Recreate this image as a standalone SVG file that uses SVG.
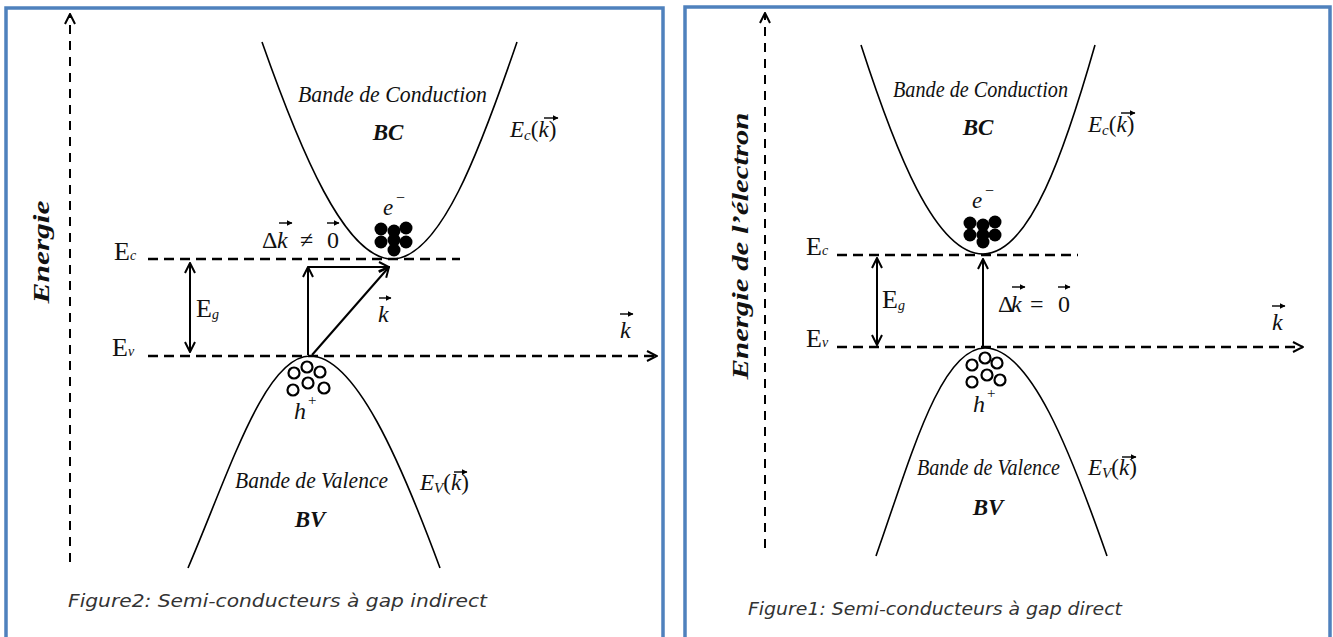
<svg xmlns="http://www.w3.org/2000/svg" width="1333" height="637" viewBox="0 0 1333 637">
<style>
.frame{fill:none;stroke:#4F81BD;stroke-width:3.5}
.axis{fill:none;stroke:#000;stroke-width:2;stroke-dasharray:9 7}
.lvl{fill:none;stroke:#000;stroke-width:2.5;stroke-dasharray:10 6}
.band{fill:none;stroke:#000;stroke-width:1.6}
.arr{fill:none;stroke:#000;stroke-width:2}
.vec{fill:none;stroke:#000;stroke-width:1.4}
.el{fill:#000}
.hole{fill:#fff;stroke:#000;stroke-width:2.2}
.t{font-family:"Liberation Serif","Times New Roman",serif;fill:#111}
.it{font-style:italic}
.bi{font-style:italic;font-weight:bold}
.cap{font-family:"DejaVu Sans",Verdana,sans-serif;font-style:italic;fill:#333;font-size:17px}
</style>
<defs>
<marker id="ah" viewBox="0 0 12 12" refX="11" refY="6" markerWidth="12" markerHeight="12" markerUnits="userSpaceOnUse" orient="auto-start-reverse"><path d="M1,1 L11,6 L1,11" fill="none" stroke="#000" stroke-width="2" stroke-dasharray="none"/></marker>
<marker id="vh" viewBox="0 0 6 6" refX="5.5" refY="3" markerWidth="6" markerHeight="6" markerUnits="userSpaceOnUse" orient="auto"><path d="M0,0 L6,3 L0,6 z" fill="#000"/></marker>
</defs>

<g id="frames">
<rect class="frame" x="6" y="8" width="657" height="640"/>
<rect class="frame" x="685" y="7" width="645" height="640"/>
</g>

<!-- LEFT PANEL: indirect gap -->
<g id="left-axes">
<line class="axis" x1="70" y1="562" x2="70" y2="14" marker-end="url(#ah)"/>
<line class="lvl" x1="148" y1="259" x2="460" y2="259"/>
<line class="lvl" x1="148" y1="356" x2="657" y2="356" marker-end="url(#ah)"/>
<text class="t bi" font-size="24" transform="translate(49,252) rotate(-90)" text-anchor="middle" textLength="103" lengthAdjust="spacingAndGlyphs">Energie</text>
<text class="t" x="620" y="338" font-size="24" font-style="italic">k</text>
<line class="vec" x1="620" y1="314" x2="633" y2="314" marker-end="url(#vh)"/>
</g>

<g id="left-conduction-band">
<path class="band" d="M262,42 C300,150 345,259 392,259 C440,259 480,150 517,42"/>
<text class="t it" x="298" y="102" font-size="23" textLength="189" lengthAdjust="spacingAndGlyphs">Bande de Conduction</text>
<text class="t bi" x="388" y="140" font-size="23" text-anchor="middle">BC</text>
<text class="t" x="510" y="137" font-size="23"><tspan font-style="italic">E</tspan><tspan font-size="15" font-style="italic" dy="3">c</tspan><tspan dy="-3">(</tspan><tspan font-style="italic">k</tspan>)</text>
<line class="vec" x1="544" y1="118" x2="558" y2="118" marker-end="url(#vh)"/>
</g>

<g id="left-electrons">
<circle class="el" cx="381" cy="229" r="6.5"/>
<circle class="el" cx="394" cy="231" r="6.5"/>
<circle class="el" cx="406" cy="228" r="6.5"/>
<circle class="el" cx="381" cy="242" r="6.5"/>
<circle class="el" cx="394" cy="240" r="6.5"/>
<circle class="el" cx="406" cy="242" r="6.5"/>
<circle class="el" cx="394" cy="250" r="6.5"/>
<text class="t it" x="383" y="215" font-size="23">e</text>
<text class="t" x="396" y="203" font-size="16">−</text>
</g>

<g id="left-levels-labels">
<text class="t" x="114" y="260" font-size="26">E<tspan font-size="14" font-style="italic">c</tspan></text>
<text class="t" x="112" y="356" font-size="26">E<tspan font-size="14" font-style="italic">v</tspan></text>
<text class="t" x="196" y="317" font-size="26">E<tspan font-size="14" font-style="italic" dy="2">g</tspan></text>
</g>

<g id="left-valence-band">
<path class="band" d="M188,568 C230,470 265,356 310,356 C355,356 400,460 440,568"/>
<circle class="hole" cx="294" cy="373" r="5.5"/>
<circle class="hole" cx="307" cy="367" r="5.5"/>
<circle class="hole" cx="320" cy="372" r="5.5"/>
<circle class="hole" cx="293" cy="390" r="5.5"/>
<circle class="hole" cx="308" cy="383" r="5.5"/>
<circle class="hole" cx="324" cy="388" r="5.5"/>
<text class="t it" x="294" y="419" font-size="24">h</text>
<text class="t" x="308" y="405" font-size="15">+</text>
<text class="t it" x="235" y="488" font-size="23" textLength="153" lengthAdjust="spacingAndGlyphs">Bande de Valence</text>
<text class="t bi" x="310" y="527" font-size="23" text-anchor="middle">BV</text>
<text class="t" x="420" y="490" font-size="23"><tspan font-style="italic">E</tspan><tspan font-size="15" font-style="italic" dy="3">V</tspan><tspan dy="-3">(</tspan><tspan font-style="italic">k</tspan>)</text>
<line class="vec" x1="454" y1="472" x2="467" y2="472" marker-end="url(#vh)"/>
</g>

<g id="left-connectors">
<line class="arr" x1="190" y1="263" x2="190" y2="352" marker-start="url(#ah)" marker-end="url(#ah)"/>
<line class="arr" x1="308" y1="355" x2="308" y2="267" marker-end="url(#ah)"/>
<line class="arr" x1="308" y1="267" x2="389" y2="267" marker-end="url(#ah)"/>
<line class="arr" x1="312" y1="355" x2="389" y2="267" marker-end="url(#ah)"/>
</g>

<g id="left-transition-labels">
<text class="t" x="262" y="248" font-size="24">Δ</text>
<text class="t it" x="277" y="248" font-size="24">k</text>
<line class="vec" x1="279" y1="223" x2="292" y2="223" marker-end="url(#vh)"/>
<text class="t" x="300" y="248" font-size="24">≠</text>
<text class="t" x="327" y="248" font-size="24">0</text>
<line class="vec" x1="327" y1="223" x2="339" y2="223" marker-end="url(#vh)"/>
<text class="t it" x="378" y="322" font-size="24">k</text>
<line class="vec" x1="379" y1="298" x2="391" y2="298" marker-end="url(#vh)"/>
</g>

<text id="caption-left" class="cap" x="68" y="607" textLength="419" lengthAdjust="spacingAndGlyphs">Figure2: Semi-conducteurs à gap indirect</text>

<!-- RIGHT PANEL: direct gap -->
<g id="right-axes">
<line class="axis" x1="765" y1="548" x2="765" y2="13" marker-end="url(#ah)"/>
<line class="lvl" x1="837" y1="255" x2="1078" y2="255"/>
<line class="lvl" x1="837" y1="347" x2="1303" y2="347" marker-end="url(#ah)"/>
<text class="t bi" font-size="24" transform="translate(748,246) rotate(-90)" text-anchor="middle" textLength="267" lengthAdjust="spacingAndGlyphs">Energie de l’électron</text>
<text class="t" x="1272" y="330" font-size="24" font-style="italic">k</text>
<line class="vec" x1="1272" y1="306" x2="1285" y2="306" marker-end="url(#vh)"/>
</g>

<g id="right-conduction-band">
<path class="band" d="M861,45 C895,150 935,254 983,254 C1030,254 1065,150 1095,45"/>
<text class="t it" x="893" y="97" font-size="23" textLength="175" lengthAdjust="spacingAndGlyphs">Bande de Conduction</text>
<text class="t bi" x="978" y="135" font-size="23" text-anchor="middle">BC</text>
<text class="t" x="1088" y="132" font-size="23"><tspan font-style="italic">E</tspan><tspan font-size="15" font-style="italic" dy="3">c</tspan><tspan dy="-3">(</tspan><tspan font-style="italic">k</tspan>)</text>
<line class="vec" x1="1121" y1="113" x2="1135" y2="113" marker-end="url(#vh)"/>
</g>

<g id="right-electrons">
<circle class="el" cx="970" cy="223" r="6.5"/>
<circle class="el" cx="983" cy="225" r="6.5"/>
<circle class="el" cx="995" cy="222" r="6.5"/>
<circle class="el" cx="970" cy="235" r="6.5"/>
<circle class="el" cx="983" cy="235" r="6.5"/>
<circle class="el" cx="995" cy="235" r="6.5"/>
<circle class="el" cx="983" cy="242" r="6.5"/>
<text class="t it" x="972" y="208" font-size="23">e</text>
<text class="t" x="985" y="196" font-size="16">−</text>
</g>

<g id="right-levels-labels">
<text class="t" x="806" y="255" font-size="26">E<tspan font-size="14" font-style="italic">c</tspan></text>
<text class="t" x="806" y="347" font-size="26">E<tspan font-size="14" font-style="italic">v</tspan></text>
<text class="t" x="882" y="308" font-size="26">E<tspan font-size="14" font-style="italic" dy="2">g</tspan></text>
</g>

<g id="right-valence-band">
<path class="band" d="M876,556 C910,460 940,348 985,348 C1030,348 1070,450 1107,556"/>
<circle class="hole" cx="972" cy="365" r="5.5"/>
<circle class="hole" cx="985" cy="358" r="5.5"/>
<circle class="hole" cx="997" cy="363" r="5.5"/>
<circle class="hole" cx="972" cy="382" r="5.5"/>
<circle class="hole" cx="987" cy="375" r="5.5"/>
<circle class="hole" cx="1000" cy="380" r="5.5"/>
<text class="t it" x="973" y="412" font-size="24">h</text>
<text class="t" x="987" y="398" font-size="15">+</text>
<text class="t it" x="917" y="475" font-size="23" textLength="143" lengthAdjust="spacingAndGlyphs">Bande de Valence</text>
<text class="t bi" x="988" y="515" font-size="23" text-anchor="middle">BV</text>
<text class="t" x="1088" y="475" font-size="23"><tspan font-style="italic">E</tspan><tspan font-size="15" font-style="italic" dy="3">V</tspan><tspan dy="-3">(</tspan><tspan font-style="italic">k</tspan>)</text>
<line class="vec" x1="1122" y1="457" x2="1136" y2="457" marker-end="url(#vh)"/>
</g>

<g id="right-connectors">
<line class="arr" x1="877" y1="258" x2="877" y2="345" marker-start="url(#ah)" marker-end="url(#ah)"/>
<line class="arr" x1="983" y1="346" x2="983" y2="259" marker-end="url(#ah)"/>
</g>

<g id="right-transition-labels">
<text class="t" x="998" y="312" font-size="24">Δ</text>
<text class="t it" x="1011" y="312" font-size="24">k</text>
<line class="vec" x1="1012" y1="287" x2="1025" y2="287" marker-end="url(#vh)"/>
<text class="t" x="1030" y="312" font-size="24">=</text>
<text class="t" x="1058" y="312" font-size="24">0</text>
<line class="vec" x1="1058" y1="287" x2="1070" y2="287" marker-end="url(#vh)"/>
</g>

<text id="caption-right" class="cap" x="748" y="615" textLength="374" lengthAdjust="spacingAndGlyphs">Figure1: Semi-conducteurs à gap direct</text>
</svg>
